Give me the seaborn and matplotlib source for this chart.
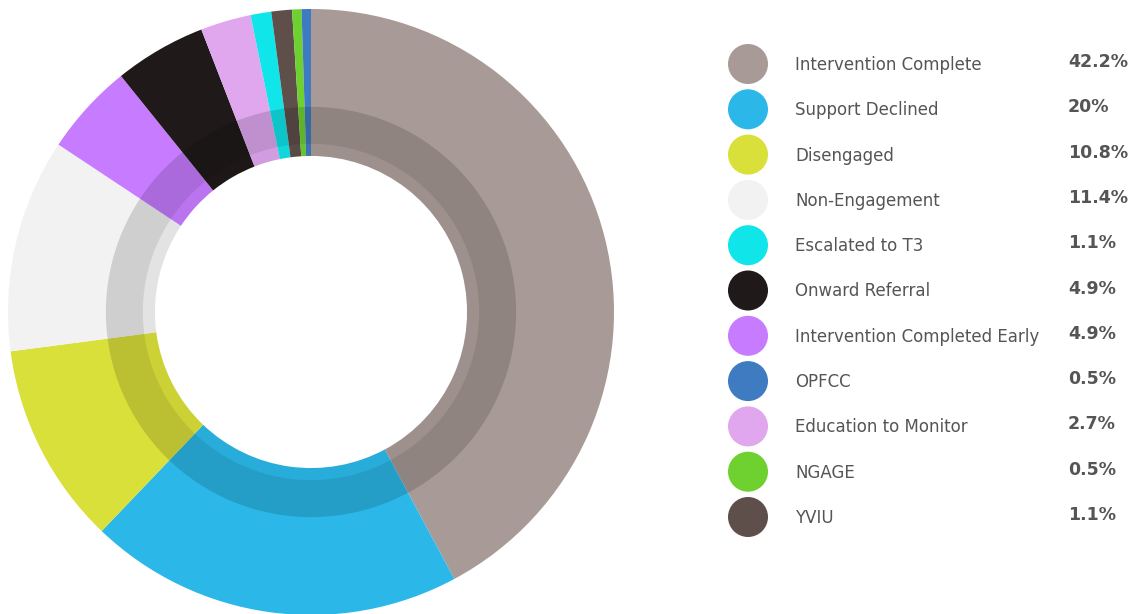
import numpy as np
import pandas as pd
import matplotlib
matplotlib.use("Agg")
import matplotlib.pyplot as plt
from matplotlib.patches import Wedge
import seaborn as sns

# -----------------------------
# Data
# -----------------------------
labels = [
    "Intervention Complete",
    "Support Declined",
    "Disengaged",
    "Non-Engagement",
    "Escalated to T3",
    "Onward Referral",
    "Intervention Completed Early",
    "OPFCC",
    "Education to Monitor",
    "NGAGE",
    "YVIU",
]
values = [42.2, 20, 10.8, 11.4, 1.1, 4.9, 4.9, 0.5, 2.7, 0.5, 1.1]
value_text = ["42.2%", "20%", "10.8%", "11.4%", "1.1%", "4.9%", "4.9%",
              "0.5%", "2.7%", "0.5%", "1.1%"]
colors = ["#a89a96", "#2bb8e8", "#d9e03a", "#f2f2f2", "#10e6ea", "#1f1a19",
          "#c77cff", "#3f7bc0", "#e0a7ef", "#6fd12f", "#5e4f4a"]

# order of the slices around the ring (clockwise from the top)
ring_order = [
    "Intervention Complete",
    "Support Declined",
    "Disengaged",
    "Non-Engagement",
    "Intervention Completed Early",
    "Onward Referral",
    "Education to Monitor",
    "Escalated to T3",
    "YVIU",
    "NGAGE",
    "OPFCC",
]

df = pd.DataFrame({"label": labels, "value": values,
                   "text": value_text, "color": colors})

sns.set_style("white")
plt.rcParams["font.family"] = ["DejaVu Sans"]

fig = plt.figure(figsize=(11.42, 6.14), dpi=100)

# -----------------------------
# Donut
# -----------------------------
ax = fig.add_axes([8 / 1142, -1 / 614, 606 / 1142, 606 / 614])
ring = df.set_index("label").loc[ring_order]
ax.pie(ring["value"], colors=ring["color"], startangle=90,
       counterclock=False, radius=1.0,
       wedgeprops=dict(width=1.0 - 0.515, linewidth=0))

# shaded inner band
ax.add_patch(Wedge((0, 0), 0.677, 0, 360, width=0.677 - 0.555,
                   facecolor="black", alpha=0.14, linewidth=0))
ax.add_patch(Wedge((0, 0), 0.555, 0, 360, width=0.555 - 0.515,
                   facecolor="black", alpha=0.06, linewidth=0))
ax.set_xlim(-1, 1)
ax.set_ylim(-1, 1)
ax.set_aspect("equal")
ax.axis("off")

# -----------------------------
# Legend
# -----------------------------
lax = fig.add_axes([0, 0, 1, 1])

rows = np.arange(len(df))
ys = 64 + rows * 45.3
sns.scatterplot(x=np.full(len(df), 748.0), y=ys, hue=df["label"],
                palette=dict(zip(df["label"], df["color"])),
                s=830, linewidth=0, legend=False, ax=lax)
lax.set_xlim(0, 1142)
lax.set_ylim(614, 0)
lax.axis("off")

for y, lab, txt in zip(ys, df["label"], df["text"]):
    lax.text(795, y + 1, lab, fontsize=12, color="#555555",
             va="center", ha="left")
    lax.text(1068, y - 2, txt, fontsize=12.5, color="#555555",
             fontweight="bold", va="center", ha="left")

fig.savefig("out.png", dpi=100, facecolor="white")
